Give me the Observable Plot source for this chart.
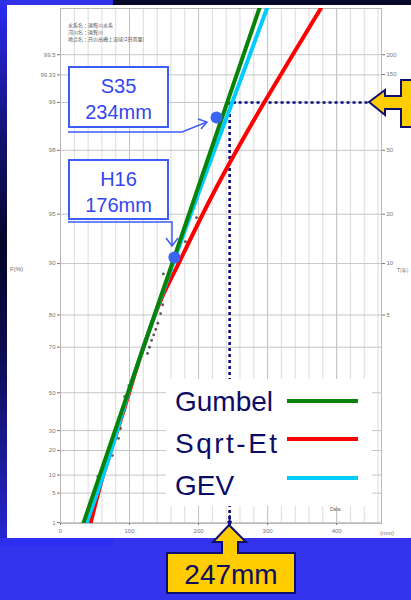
<!DOCTYPE html>
<html><head><meta charset="utf-8">
<script src="https://cdn.jsdelivr.net/npm/d3@7"></script>
<script src="https://cdn.jsdelivr.net/npm/@observablehq/plot@0.6"></script>
<style>
html,body{margin:0;padding:0;width:411px;height:600px;overflow:hidden;background:#3434ee;font-family:"Liberation Sans",Arial,sans-serif}
.abs{position:absolute}
#chart{position:absolute;left:0;top:0;z-index:2}
.box{position:absolute;border:2px solid #3d5cf8;background:#fff;color:#3346f0;font-size:20px;text-align:center;line-height:26px;box-sizing:border-box;padding-top:5px;z-index:3}
.leg{position:absolute;left:166px;top:379px;width:206px;height:127px;background:#fff;z-index:3}
.lt{position:absolute;left:9px;font-size:28px;color:#0c0c66;line-height:28px}
.ll{position:absolute;left:121px;width:71px;height:4px}
</style></head>
<body>
<div class="abs" style="left:0;top:0;width:411px;height:600px;background:#3434ee"></div>
<div class="abs" style="left:0;top:0;width:113px;height:6px;background:#3030e8"></div>
<div class="abs" style="left:113px;top:0;width:298px;height:6px;background:#0a0a2c"></div>
<div class="abs" style="left:0;top:6px;width:7px;height:532px;background:linear-gradient(to bottom,#2a2af0 0%,#121270 25%,#05052a 45%,#0c0c50 65%,#2626d0 100%)"></div>
<div class="abs" style="left:7px;top:5px;width:404px;height:533px;background:#fff"></div>
<div class="abs" style="left:0;top:538px;width:113px;height:8px;background:#2e2ef0"></div>

<div class="abs" style="left:68px;top:21px;font-size:5px;line-height:7px;color:#555;z-index:3;font-family:'Noto Sans CJK JP',sans-serif">水系名：遠賀川水系<br>河川名：遠賀川<br>地点名：日の出橋上流域(2日雨量)</div>
<div class="abs" style="left:10px;top:266px;font-size:6px;color:#666;z-index:3">F(%)</div>
<div class="abs" style="left:397px;top:266px;font-size:5px;color:#666;z-index:3;font-family:'Noto Sans CJK JP',sans-serif">T(年)</div>
<div class="abs" style="left:380px;top:530px;font-size:6px;color:#777;z-index:3">(mm)</div>
<div class="abs" style="left:330px;top:506px;font-size:5px;color:#666;z-index:3">Data</div>

<div id="chart"></div>

<div class="box" id="b1" style="left:68px;top:66px;width:101px;height:62px"></div>
<div class="box" id="b2" style="left:68px;top:159px;width:101px;height:61px"></div>

<div class="leg" id="legend"></div>

<svg class="abs" style="left:0;top:0;z-index:4" width="411" height="600">
  <g fill="none" stroke="#3d5cf8" stroke-width="1.5">
    <polyline points="68,132 182,132 207,122"/>
    <polyline points="198,119 207,122 201,129"/>
    <polyline points="68,222 172,222 172,245"/>
    <polyline points="166,238 172,246 178,238"/>
  </g>
  <polygon points="369,102 385,90 385,96 401,96 401,80 413,80 413,127 401,127 401,109 385,109 385,115" fill="#ffcc00" stroke="#0e0e70" stroke-width="2"/>
  <polygon points="229,525 246,542 238,542 238,553 295,553 295,593 167,593 167,553 222,553 222,542 213,542" fill="#ffcc00" stroke="#0e0e70" stroke-width="2"/>
  <text id="calloutText" x="231" y="584" text-anchor="middle" font-size="28" fill="#0c0c60" font-family="Liberation Sans, Arial"></text>
</svg>

<script>
// ---- data ----
const probTicks = [1, 5, 10, 20, 30, 50, 70, 80, 90, 95, 98, 99, 99.33, 99.5];
const probLabels = ["1", "5", "10", "20", "30", "50", "70", "80", "90", "95", "98", "99", "99.33", "99.5"];
const returnTicks = [5, 10, 20, 50, 100, 150, 200];
const returnLabels = ["5", "10", "20", "50", "100", "150", "200"];
const xTicks = [0, 100, 200, 300, 400];

// fitted lines (rainfall mm vs Gumbel reduced variate)
const gumbelMM = [33, 288];
const gumbelVar = [-1.54, 5.97];
const sqrtEtMM = [43.5, 62, 87, 120, 145, 171, 216, 254, 294, 377];
const sqrtEtVar = [-1.54, -0.83, -0.04, 1.03, 1.71, 2.25, 3.17, 3.88, 4.58, 5.97];
const gevMM = [37.5, 69, 104, 163, 196, 248, 299];
const gevVar = [-1.54, -0.62, 0.55, 2.25, 3.17, 4.58, 5.97];

// observed annual maxima (plotting positions)
const obsMM = [54, 69, 75, 84, 87, 93, 99, 126, 129, 132, 135, 138, 141, 145, 148, 149, 181, 197];
const obsVar = [-0.855, -0.63, -0.55, -0.3, -0.155, 0.31, 0.47, 0.94, 1.03, 1.13, 1.21, 1.29, 1.38, 1.52, 1.65, 2.10, 2.57, 2.92];

// highlighted events
const eventNames = ["S35", "H16"];
const eventValues = ["234mm", "176mm"];
const eventMM = [226, 165];
const eventVar = [4.38, 2.34];

// 100-year design value
const designMM = 245;
const designLabel = "247mm";
const designVar = 4.6;

const seriesNames = ["Gumbel", "Sqrt-Et", "GEV"];
const seriesColors = ["#078407", "#ff0000", "#00ccff"];

// ---- build ----
const gum = p => -Math.log(-Math.log(p));
const leftPos = probTicks.map(p => gum(p / 100));
const rightPos = returnTicks.map(T => gum(1 - 1 / T));
const leftMap = new Map(leftPos.map((v, i) => [v, probLabels[i]]));
const rightMap = new Map(rightPos.map((v, i) => [v, returnLabels[i]]));

const toRows = (xs, ys) => xs.map((x, i) => ({x, y: ys[i]}));
const gumbel = toRows(gumbelMM, gumbelVar);
const sqrtEt = toRows(sqrtEtMM, sqrtEtVar);
const gev = toRows(gevMM, gevVar);
const obs = toRows(obsMM, obsVar);
const events = toRows(eventMM, eventVar);

const yBottom = -1.54, yTop = 5.97;

const chart = Plot.plot({
  width: 411, height: 545,
  marginLeft: 60, marginRight: 30, marginTop: 8, marginBottom: 22,
  x: {domain: [0, 465]},
  y: {domain: [yBottom, yTop]},
  style: {background: "transparent", fontFamily: "Liberation Sans, Arial, sans-serif"},
  marks: [
    Plot.ruleX(d3.range(20, 465, 20), {stroke: "#dcdcdc", strokeWidth: 1}),
    Plot.ruleX(xTicks.slice(1), {stroke: "#c4c4c4", strokeWidth: 1}),
    Plot.ruleY(leftPos, {stroke: "#c6c6c6", strokeWidth: 1}),
    Plot.frame({stroke: "#b8b8b8"}),
    Plot.axisY({ticks: leftPos, tickFormat: d => leftMap.get(d), anchor: "left", tickSize: 3, tickPadding: 2, fontSize: 6, color: "#777", label: null}),
    Plot.axisY({ticks: rightPos, tickFormat: d => rightMap.get(d), anchor: "right", tickSize: 3, tickPadding: 2, fontSize: 6, color: "#777", label: null}),
    Plot.axisX({ticks: xTicks, tickSize: 2, tickPadding: 3, fontSize: 6, color: "#777", label: null}),
    Plot.dot(obs, {x: "x", y: "y", r: 1.4, fill: "#555"}),
    // design guide lines
    Plot.ruleX([designMM], {y1: designVar, y2: -1.58, stroke: "#0b0b80", strokeWidth: 2.6, strokeDasharray: "3,3"}),
    Plot.ruleY([designVar], {x1: designMM + 5, x2: 449, stroke: "#0b0b80", strokeWidth: 2.6, strokeDasharray: "3,3"}),
    Plot.arrow([{x1: designMM + 8, x2: designMM + 2}], {x1: "x1", x2: "x2", y1: designVar, y2: designVar, stroke: "#0b0b80", strokeWidth: 2.2, headLength: 9}),
    // fitted lines
    Plot.line(sqrtEt, {x: "x", y: "y", stroke: seriesColors[1], strokeWidth: 4, curve: "catmull-rom", clip: true}),
    Plot.line(gev, {x: "x", y: "y", stroke: seriesColors[2], strokeWidth: 4, curve: "catmull-rom", clip: true}),
    Plot.line(gumbel, {x: "x", y: "y", stroke: seriesColors[0], strokeWidth: 4, clip: true}),
    Plot.arrow([{y1: -1.43, y2: -1.55}], {x1: designMM, x2: designMM, y1: "y1", y2: "y2", stroke: "#0b0b80", strokeWidth: 2, headLength: 8}),
    Plot.dot(events, {x: "x", y: "y", r: 6, fill: "#3a64f2"})
  ]
});
document.getElementById("chart").appendChild(chart);

document.getElementById("b1").innerHTML = eventNames[0] + "<br>" + eventValues[0];
document.getElementById("b2").innerHTML = eventNames[1] + "<br>" + eventValues[1];
document.getElementById("calloutText").textContent = designLabel;

const leg = document.getElementById("legend");
const textTops = [9, 51, 93];
const lineTops = [20, 58, 97];
seriesNames.forEach((n, i) => {
  const t = document.createElement("div");
  t.className = "lt"; t.style.top = textTops[i] + "px"; t.textContent = n;
  if (n === "Sqrt-Et") t.style.letterSpacing = "2.5px";
  leg.appendChild(t);
  const l = document.createElement("div");
  l.className = "ll"; l.style.top = lineTops[i] + "px"; l.style.background = seriesColors[i];
  leg.appendChild(l);
});
</script>
</body></html>
